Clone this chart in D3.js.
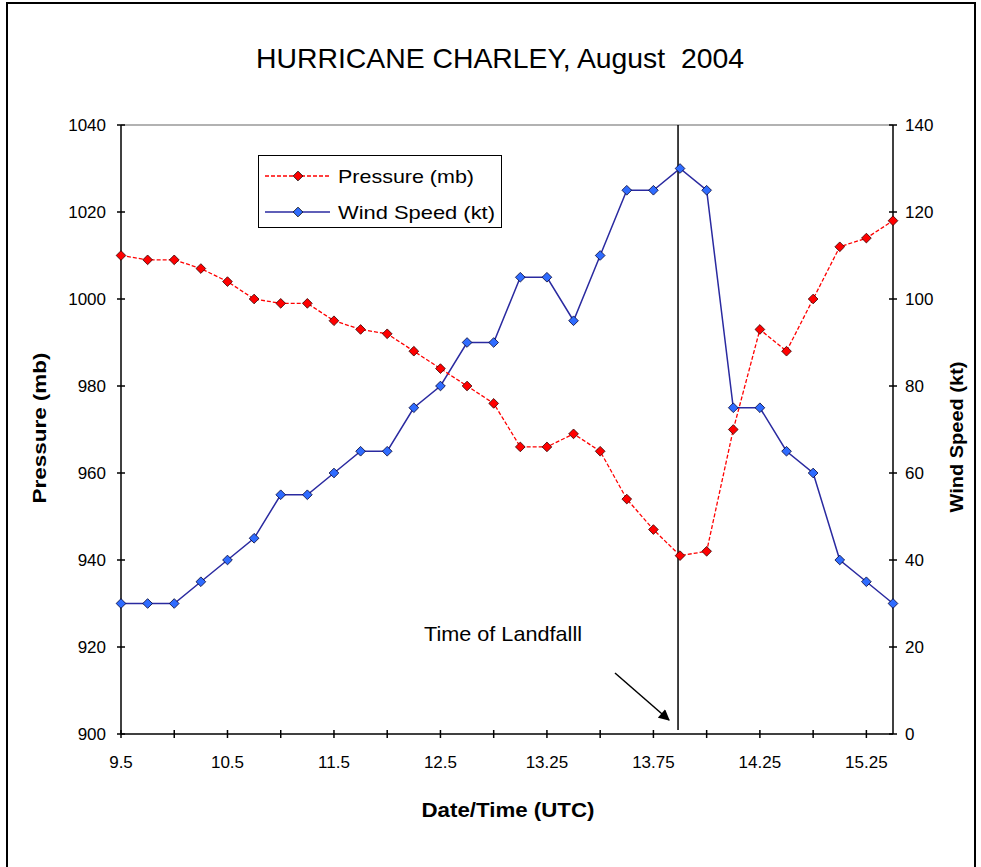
<!DOCTYPE html>
<html>
<head>
<meta charset="utf-8">
<script src="https://cdn.jsdelivr.net/npm/d3@7/dist/d3.min.js"></script>
<style>
  html, body { margin: 0; padding: 0; background: #fff; }
  svg { display: block; font-family: "Liberation Sans", Arial, sans-serif; }
</style>
</head>
<body>
<svg id="chart" width="981" height="867"></svg>
<script>
// ---- Data ----
const categories = ["9.5","9.75","10","10.25","10.5","10.75","11","11.25","11.5","11.75",
  "12","12.25","12.5","12.75","13","13.125","13.25","13.375","13.5","13.625",
  "13.75","13.82","13.875","14","14.25","14.5","14.75","15","15.25","15.5"];
const pressure = [1010,1009,1009,1007,1004,1000,999,999,995,993,
  992,988,984,980,976,966,966,969,965,954,
  947,941,942,970,993,988,1000,1012,1014,1018];
const windSpeed = [30,30,30,35,40,45,55,55,60,65,
  65,75,80,90,90,105,105,95,110,125,
  125,130,125,75,75,65,60,40,35,30];
const xTickLabels = ["9.5","10.5","11.5","12.5","13.25","13.75","14.25","15.25"];
const pressureTicks = [900,920,940,960,980,1000,1020,1040];
const windTicks = [0,20,40,60,80,100,120,140];
const landfallCategory = "13.82";

const svg = d3.select("#chart");
const L = 121, R = 893, T = 125, B = 734;

// frame
svg.append("rect").attr("x", 7).attr("y", 3).attr("width", 968).attr("height", 870)
  .attr("fill", "none").attr("stroke", "#000").attr("stroke-width", 2);

const x = d3.scalePoint().domain(categories).range([L, R]);
const yP = d3.scaleLinear().domain([900, 1040]).range([B, T]);
const yW = d3.scaleLinear().domain([0, 140]).range([B, T]);

// title
svg.append("text").attr("x", 500).attr("y", 68).attr("text-anchor", "middle")
  .attr("font-size", 28).attr("fill", "#000").style("white-space", "pre")
  .attr("textLength", 488).attr("lengthAdjust", "spacingAndGlyphs")
  .text("HURRICANE CHARLEY, August  2004");

// top border of plot area
svg.append("line").attr("x1", L).attr("x2", R).attr("y1", T).attr("y2", T)
  .attr("stroke", "#999").attr("stroke-width", 1.5);

// left axis
const gL = svg.append("g");
gL.append("line").attr("x1", L).attr("x2", L).attr("y1", T).attr("y2", B).attr("stroke", "#000").attr("stroke-width", 1.5);
pressureTicks.forEach(v => {
  gL.append("line").attr("x1", L - 4).attr("x2", L + 4).attr("y1", yP(v)).attr("y2", yP(v)).attr("stroke", "#000").attr("stroke-width", 1.5);
  gL.append("text").attr("x", L - 15).attr("y", yP(v)).attr("dy", "0.36em").attr("text-anchor", "end")
    .attr("font-size", 17).text(v);
});

// right axis
const gR = svg.append("g");
gR.append("line").attr("x1", R).attr("x2", R).attr("y1", T).attr("y2", B).attr("stroke", "#000").attr("stroke-width", 1.5);
windTicks.forEach(v => {
  gR.append("line").attr("x1", R - 4).attr("x2", R + 4).attr("y1", yW(v)).attr("y2", yW(v)).attr("stroke", "#000").attr("stroke-width", 1.5);
  gR.append("text").attr("x", R + 12).attr("y", yW(v)).attr("dy", "0.36em").attr("text-anchor", "start")
    .attr("font-size", 17).text(v);
});

// bottom axis
const gB = svg.append("g");
gB.append("line").attr("x1", L).attr("x2", R).attr("y1", B).attr("y2", B).attr("stroke", "#000").attr("stroke-width", 1.5);
categories.forEach((c, i) => {
  if (i % 2 === 0) {
    gB.append("line").attr("x1", x(c)).attr("x2", x(c)).attr("y1", B - 4).attr("y2", B + 4)
      .attr("stroke", "#000").attr("stroke-width", 1.5);
  }
});
categories.forEach((c, i) => {
  if (i % 4 === 0) {
    gB.append("text").attr("x", x(c)).attr("y", B + 34).attr("text-anchor", "middle")
      .attr("font-size", 17).text(xTickLabels[i / 4]);
  }
});

// axis titles
svg.append("text").attr("transform", `translate(46,428) rotate(-90)`).attr("text-anchor", "middle")
  .attr("font-size", 19).attr("font-weight", "bold")
  .attr("textLength", 151).attr("lengthAdjust", "spacingAndGlyphs").text("Pressure (mb)");
svg.append("text").attr("transform", `translate(963,437) rotate(-90)`).attr("text-anchor", "middle")
  .attr("font-size", 19).attr("font-weight", "bold")
  .attr("textLength", 151).attr("lengthAdjust", "spacingAndGlyphs").text("Wind Speed (kt)");
svg.append("text").attr("x", 508).attr("y", 817).attr("text-anchor", "middle")
  .attr("font-size", 21).attr("font-weight", "bold")
  .attr("textLength", 173).attr("lengthAdjust", "spacingAndGlyphs").text("Date/Time (UTC)");

// landfall line
svg.append("line").attr("x1", x(landfallCategory) - 2).attr("x2", x(landfallCategory) - 2)
  .attr("y1", T).attr("y2", B - 4).attr("stroke", "#000").attr("stroke-width", 1.5);

// annotation
svg.append("text").attr("x", 424).attr("y", 641).attr("font-size", 21)
  .attr("textLength", 158).attr("lengthAdjust", "spacingAndGlyphs").text("Time of Landfalll");
svg.append("defs").append("marker").attr("id", "arrow").attr("viewBox", "0 0 10 10")
  .attr("refX", 9).attr("refY", 5).attr("markerWidth", 13).attr("markerHeight", 11)
  .attr("markerUnits", "userSpaceOnUse").attr("orient", "auto")
  .append("path").attr("d", "M0,0 L10,5 L0,10 z").attr("fill", "#000");
svg.append("line").attr("x1", 615).attr("y1", 673).attr("x2", 669).attr("y2", 720)
  .attr("stroke", "#000").attr("stroke-width", 1.5).attr("marker-end", "url(#arrow)");

// series
const diamond = d3.symbol().type(d3.symbolDiamond2).size(60);
const lineP = d3.line().x((d, i) => x(categories[i])).y(d => yP(d));
const lineW = d3.line().x((d, i) => x(categories[i])).y(d => yW(d));

svg.append("path").datum(windSpeed).attr("d", lineW).attr("fill", "none")
  .attr("stroke", "#2a2aa0").attr("stroke-width", 1.5);
svg.append("path").datum(pressure).attr("d", lineP).attr("fill", "none")
  .attr("stroke", "#ff0000").attr("stroke-width", 1.3).attr("stroke-dasharray", "4,2");

svg.selectAll(".pw").data(windSpeed).enter().append("path")
  .attr("transform", (d, i) => `translate(${x(categories[i])},${yW(d)})`)
  .attr("d", diamond).attr("fill", "#2f6cff").attr("stroke", "#000033").attr("stroke-width", 0.8);
svg.selectAll(".pp").data(pressure).enter().append("path")
  .attr("transform", (d, i) => `translate(${x(categories[i])},${yP(d)})`)
  .attr("d", diamond).attr("fill", "#ff0000").attr("stroke", "#330000").attr("stroke-width", 0.8);

// legend
const lg = svg.append("g");
lg.append("rect").attr("x", 258.5).attr("y", 155.5).attr("width", 243).attr("height", 72)
  .attr("fill", "#fff").attr("stroke", "#000").attr("stroke-width", 1);
const legendItems = [
  {label: "Pressure (mb)", color: "#ff0000", fill: "#ff0000", dash: "4,2", y: 176, len: 136},
  {label: "Wind Speed (kt)", color: "#2a2aa0", fill: "#2f6cff", dash: null, y: 212, len: 157}
];
legendItems.forEach(it => {
  lg.append("line").attr("x1", 265).attr("x2", 330).attr("y1", it.y).attr("y2", it.y)
    .attr("stroke", it.color).attr("stroke-width", 1.3).attr("stroke-dasharray", it.dash);
  lg.append("path").attr("transform", `translate(298,${it.y})`).attr("d", diamond)
    .attr("fill", it.fill).attr("stroke", "#000").attr("stroke-width", 0.8);
  lg.append("text").attr("x", 338).attr("y", it.y).attr("dy", "0.36em").attr("font-size", 19)
    .attr("textLength", it.len).attr("lengthAdjust", "spacingAndGlyphs").text(it.label);
});
</script>
</body>
</html>
